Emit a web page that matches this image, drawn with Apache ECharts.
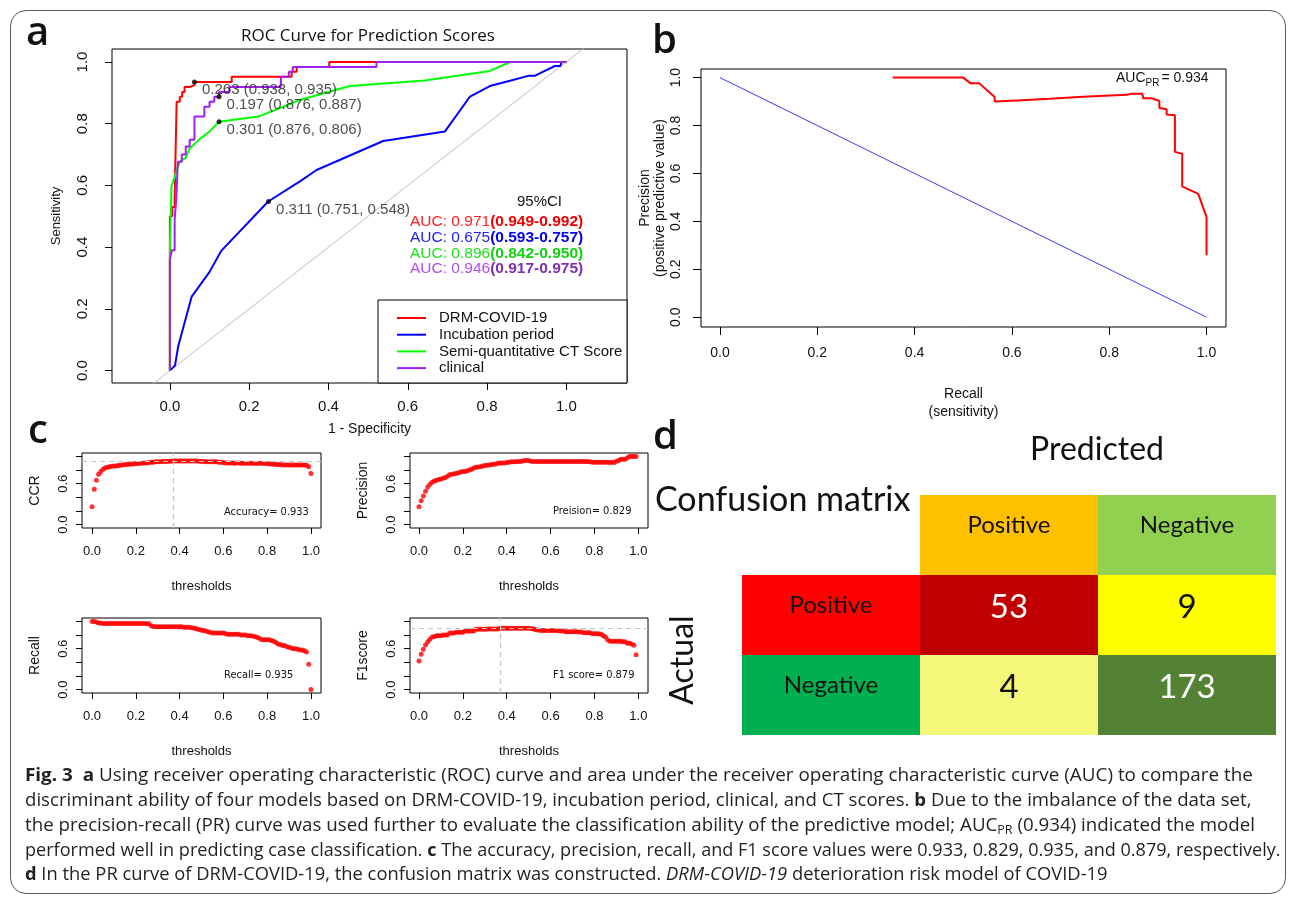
<!DOCTYPE html>
<html>
<head>
<meta charset="utf-8">
<title>Fig. 3 DRM-COVID-19 model evaluation</title>
<script src="https://cdn.jsdelivr.net/npm/echarts@6/dist/echarts.min.js"></script>
<style>
  html, body { margin: 0; padding: 0; background: #fff; }
  #wrap { position: relative; width: 1295px; height: 902px; overflow: hidden; background: #fff; }
  #chart { position: absolute; left: 0; top: 0; width: 1295px; height: 902px; }
  #frame { position: absolute; left: 10px; top: 10px; width: 1276px; height: 884px; box-sizing: border-box;
           border: 1.5px solid #5c5c5c; border-radius: 16px; pointer-events: none; }
  .cap { position: absolute; left: 25px; white-space: nowrap; font-family: 'Open Sans', sans-serif;
         font-size: 18px; line-height: 24px; color: #231f20; transform-origin: 0 50%; }
  .cap b { font-weight: 700; }
  .cap sub { font-size: 12px; line-height: 0; vertical-align: -3px; }
</style>
</head>
<body>
<div id="wrap">
  <div id="chart"></div>
  <div id="frame"></div>
  <div class="cap" data-w="1228" style="top:762px"><b>Fig. 3</b>&nbsp; <b>a</b> Using receiver operating characteristic (ROC) curve and area under the receiver operating characteristic curve (AUC) to compare the</div>
  <div class="cap" data-w="1227" style="top:787px">discriminant ability of four models based on DRM-COVID-19, incubation period, clinical, and CT scores. <b>b</b> Due to the imbalance of the data set,</div>
  <div class="cap" data-w="1230" style="top:812px">the precision-recall (PR) curve was used further to evaluate the classification ability of the predictive model; AUC<sub>PR</sub> (0.934) indicated the model</div>
  <div class="cap" data-w="1256" style="top:837px">performed well in predicting case classification. <b>c</b> The accuracy, precision, recall, and F1 score values were 0.933, 0.829, 0.935, and 0.879, respectively.</div>
  <div class="cap" data-w="1083" style="top:861px"><b>d</b> In the PR curve of DRM-COVID-19, the confusion matrix was constructed. <i>DRM-COVID-19</i> deterioration risk model of COVID-19</div>
</div>
<script>
// ---------- a: ROC curves, vertices as (1 - specificity, sensitivity) ----------
const rocDrm = [[0,0],[0,0.50],[0.006,0.50],[0.006,0.53],[0.012,0.53],[0.012,0.56],[0.017,0.56],[0.017,0.871],
  [0.025,0.871],[0.025,0.887],[0.031,0.887],[0.031,0.903],[0.037,0.903],[0.037,0.919],[0.05,0.919],[0.05,0.925],
  [0.062,0.925],[0.062,0.935],[0.156,0.935],[0.156,0.952],[0.307,0.952],[0.307,0.968],[0.32,0.968],[0.32,0.984],
  [0.402,0.984],[0.402,1.0],[1,1]];
const rocIncubation = [[0,0],[0.013,0.017],[0.021,0.079],[0.055,0.24],[0.1,0.32],[0.13,0.389],[0.248,0.548],
  [0.328,0.613],[0.37,0.65],[0.538,0.744],[0.694,0.775],[0.757,0.888],[0.807,0.922],[0.858,0.939],[0.904,0.955],
  [0.92,0.955],[0.971,0.987],[0.985,0.987],[0.988,1.0],[1,1]];
const rocCtScore = [[0,0],[0,0.39],[0.004,0.39],[0.004,0.597],[0.025,0.677],[0.04,0.69],[0.05,0.72],[0.075,0.75],
  [0.1,0.775],[0.124,0.806],[0.223,0.823],[0.286,0.855],[0.328,0.877],[0.454,0.922],[0.643,0.94],[0.807,0.971],
  [0.858,1.0],[1,1]];
const rocClinical = [[0,0],[0,0.36],[0.005,0.36],[0.005,0.39],[0.012,0.39],[0.012,0.49],[0.016,0.49],[0.016,0.553],
  [0.02,0.553],[0.02,0.677],[0.03,0.677],[0.03,0.70],[0.04,0.70],[0.04,0.726],[0.05,0.726],[0.05,0.748],
  [0.062,0.748],[0.062,0.823],[0.087,0.823],[0.087,0.855],[0.1,0.855],[0.1,0.871],[0.112,0.871],[0.112,0.887],
  [0.124,0.887],[0.124,0.903],[0.15,0.903],[0.15,0.919],[0.28,0.919],[0.28,0.952],[0.30,0.952],[0.30,0.968],
  [0.31,0.968],[0.31,0.984],[0.521,0.984],[0.521,1.0],[1,1]];
const rocNames = ['DRM-COVID-19', 'Incubation period', 'Semi-quantitative CT Score', 'clinical'];
const aucValues = ['0.971', '0.675', '0.896', '0.946'];
const aucIntervals = ['0.949-0.992', '0.593-0.757', '0.842-0.950', '0.917-0.975'];
// best cut-off of each model: threshold, specificity, sensitivity
const cutThresholds = ['0.263', '0.197', '0.301', '0.311'];
const cutSpecificity = [0.938, 0.876, 0.876, 0.751];
const cutSensitivity = [0.935, 0.887, 0.806, 0.548];

// ---------- b: precision-recall curve ----------
const prCurve = [[0.355,1.0],[0.5,1.0],[0.515,0.976],[0.533,0.976],[0.564,0.92],[0.565,0.9],[0.61,0.905],
  [0.678,0.912],[0.746,0.92],[0.836,0.928],[0.846,0.933],[0.868,0.933],[0.87,0.914],[0.887,0.914],[0.903,0.903],
  [0.903,0.873],[0.918,0.868],[0.918,0.846],[0.935,0.843],[0.935,0.69],[0.95,0.682],[0.95,0.546],[0.983,0.515],
  [1.0,0.418],[1.0,0.259]];
const prChanceLine = [[0,1],[1,0]];
const aucPR = '0.934';

// ---------- c: metrics against the decision threshold ----------
const thresholds = [0,0.01,0.02,0.03,0.04,0.05,0.06,0.07,0.08,0.09,
  0.10,0.11,0.12,0.13,0.14,0.15,0.16,0.17,0.18,0.19,
  0.20,0.21,0.22,0.23,0.24,0.25,0.26,0.27,0.28,0.29,
  0.30,0.31,0.32,0.33,0.34,0.35,0.36,0.37,0.38,0.39,
  0.40,0.41,0.42,0.43,0.44,0.45,0.46,0.47,0.48,0.49,
  0.50,0.51,0.52,0.53,0.54,0.55,0.56,0.57,0.58,0.59,
  0.60,0.61,0.62,0.63,0.64,0.65,0.66,0.67,0.68,0.69,
  0.70,0.71,0.72,0.73,0.74,0.75,0.76,0.77,0.78,0.79,
  0.80,0.81,0.82,0.83,0.84,0.85,0.86,0.87,0.88,0.89,
  0.90,0.91,0.92,0.93,0.94,0.95,0.96,0.97,0.98,0.99,1.00];
const ccrValues = [0.26,0.52,0.65,0.74,0.78,0.81,0.83,0.84,0.85,0.855,
  0.86,0.86,0.865,0.87,0.875,0.88,0.88,0.885,0.89,0.89,
  0.895,0.895,0.9,0.9,0.905,0.905,0.91,0.915,0.915,0.92,
  0.92,0.92,0.925,0.925,0.925,0.93,0.93,0.933,0.933,0.933,
  0.933,0.933,0.933,0.933,0.933,0.933,0.933,0.933,0.933,0.93,
  0.925,0.925,0.92,0.92,0.92,0.92,0.92,0.92,0.915,0.915,
  0.91,0.905,0.905,0.905,0.905,0.9,0.905,0.905,0.9,0.9,
  0.9,0.9,0.9,0.9,0.9,0.895,0.9,0.9,0.9,0.895,
  0.895,0.89,0.89,0.885,0.88,0.88,0.88,0.875,0.875,0.875,
  0.875,0.875,0.875,0.875,0.875,0.875,0.875,0.875,0.87,0.85,0.75];
const precisionValues = [0.26,0.35,0.42,0.49,0.55,0.59,0.62,0.64,0.65,0.66,
  0.67,0.68,0.69,0.71,0.73,0.74,0.745,0.75,0.76,0.77,
  0.78,0.78,0.79,0.8,0.81,0.83,0.84,0.845,0.85,0.86,
  0.865,0.87,0.875,0.88,0.885,0.89,0.9,0.905,0.905,0.905,
  0.91,0.915,0.92,0.92,0.92,0.925,0.925,0.93,0.94,0.94,
  0.94,0.93,0.925,0.925,0.925,0.925,0.925,0.925,0.925,0.925,
  0.925,0.925,0.925,0.925,0.925,0.925,0.925,0.925,0.925,0.925,
  0.925,0.925,0.925,0.925,0.925,0.925,0.925,0.925,0.92,0.915,
  0.915,0.915,0.915,0.915,0.915,0.915,0.915,0.91,0.915,0.91,
  0.93,0.94,0.96,0.96,0.96,0.98,1.0,1.0,1.0,1.0];
const recallValues = [1.0,1.0,0.99,0.975,0.975,0.97,0.97,0.97,0.97,0.97,
  0.97,0.97,0.97,0.97,0.968,0.968,0.968,0.968,0.968,0.968,
  0.968,0.968,0.968,0.968,0.968,0.965,0.965,0.935,0.925,0.92,
  0.92,0.92,0.92,0.92,0.92,0.92,0.92,0.92,0.92,0.92,
  0.92,0.92,0.915,0.915,0.915,0.91,0.905,0.9,0.89,0.88,
  0.87,0.865,0.86,0.85,0.84,0.83,0.83,0.83,0.83,0.83,
  0.83,0.82,0.81,0.81,0.81,0.81,0.81,0.81,0.8,0.8,
  0.8,0.79,0.79,0.79,0.78,0.77,0.76,0.74,0.73,0.73,
  0.73,0.73,0.72,0.71,0.69,0.67,0.66,0.645,0.645,0.63,
  0.62,0.61,0.6,0.6,0.59,0.58,0.58,0.57,0.55,0.37,0.0];
const f1Values = [0.42,0.52,0.59,0.655,0.7,0.74,0.77,0.78,0.79,0.79,
  0.79,0.8,0.8,0.8,0.83,0.83,0.83,0.84,0.84,0.84,
  0.84,0.86,0.86,0.86,0.86,0.86,0.885,0.885,0.885,0.885,
  0.885,0.89,0.89,0.89,0.89,0.89,0.89,0.9,0.9,0.9,
  0.9,0.9,0.9,0.9,0.9,0.9,0.9,0.9,0.9,0.9,
  0.9,0.895,0.89,0.88,0.875,0.87,0.865,0.865,0.865,0.865,
  0.865,0.865,0.865,0.865,0.86,0.86,0.86,0.85,0.85,0.85,
  0.85,0.85,0.85,0.845,0.845,0.835,0.835,0.835,0.835,0.82,
  0.82,0.82,0.82,0.81,0.79,0.77,0.73,0.71,0.71,0.71,
  0.71,0.71,0.71,0.7,0.7,0.68,0.68,0.67,0.65,0.51];
const bestThreshold = 0.37;
const accuracy = '0.933';
const precisionScore = '0.829';
const recallScore = '0.935';
const f1Score = '0.879';

// ---------- d: confusion matrix ----------
const predictedClasses = ['Positive', 'Negative'];
const actualClasses = ['Positive', 'Negative'];
const confusionCounts = [[53, 9], [4, 173]];

// ---------- drawing ----------
const RF = "'Liberation Sans', Arial, sans-serif";
const NARROW = "'Liberation Sans Narrow', 'DejaVu Sans Condensed', 'Liberation Sans', sans-serif";
const OFFICE = "Lato, 'Open Sans', sans-serif";
const unitTicks = [0, 0.2, 0.4, 0.6, 0.8, 1.0];
const fmt1 = v => Number(v).toFixed(1);

function rAxis(o) {
  return {
    type: 'value', gridIndex: o.grid, min: o.min, max: o.max,
    axisLine: { show: false, onZero: false },
    splitLine: { show: false },
    axisTick: { show: true, length: o.tick, lineStyle: { color: '#000', width: 1 }, customValues: o.ticks },
    axisLabel: { show: true, customValues: o.labels, formatter: fmt1, margin: o.margin, rotate: o.rotate || 0,
                 fontSize: o.fs, color: '#111', fontFamily: RF },
    name: o.name, nameLocation: 'middle', nameGap: o.gap,
    nameTextStyle: { fontSize: o.nfs, color: '#111', fontFamily: RF, lineHeight: o.nlh || o.nfs + 2 }
  };
}
const boxGrid = (l, t, w, h) => ({ left: l, top: t, width: w, height: h, show: true,
  borderColor: '#000', borderWidth: 1, backgroundColor: 'transparent', containLabel: false });

const rocColors = ['#FF0000', '#0000FF', '#00FF00', '#A020F0'];
const rocData = [rocDrm, rocIncubation, rocCtScore, rocClinical];

const cutPoints = cutSpecificity.map((s, i) => [1 - s, cutSensitivity[i]]);

function pointsOf(values) { return values.map((v, i) => [thresholds[i], v]); }
function dots(gridIdx, values, extra) {
  return Object.assign({
    type: 'scatter', xAxisIndex: gridIdx, yAxisIndex: gridIdx, data: pointsOf(values),
    symbol: 'circle', symbolSize: 5, itemStyle: { color: '#FF0000' }, silent: true, z: 3
  }, extra || {});
}
function guideLines(yValue) {
  return {
    symbol: 'none', silent: true, label: { show: false },
    lineStyle: { color: '#c4c4c4', type: [5, 4], width: 1.2 },
    data: [{ xAxis: bestThreshold }, { yAxis: yValue }]
  };
}

// confusion matrix cells: [column, row, text, style key]
const matrixCells = [];
predictedClasses.forEach((p, j) => matrixCells.push([j + 1, 0, p, 'head' + j]));
actualClasses.forEach((a, i) => matrixCells.push([0, i + 1, a, 'side' + i]));
confusionCounts.forEach((row, i) => row.forEach((n, j) => matrixCells.push([j + 1, i + 1, String(n), 'cell' + i + j])));
const cellStyles = {
  head0: ['#FFC000', '#111', 24], head1: ['#92D050', '#111', 24],
  side0: ['#FF0000', '#111', 24], side1: ['#00B050', '#111', 24],
  cell00: ['#C00000', '#fff', 33], cell01: ['#FFFF00', '#111', 33],
  cell10: ['#F4F77A', '#111', 33], cell11: ['#548235', '#fff', 33]
};

const rocSeries = rocData.map((d, i) => ({
  type: 'line', name: rocNames[i], xAxisIndex: 0, yAxisIndex: 0, data: d,
  symbol: 'none', showSymbol: false, clip: true, silent: true,
  lineStyle: { color: rocColors[i], width: 2 }, itemStyle: { color: rocColors[i] }, z: 3 + i
}));

const aucTexts = aucValues.map((v, i) => ({
  type: 'text', left: 410, top: 214 + i * 15.7, z: 50,
  style: {
    text: `{a|AUC: ${v}}{b|(${aucIntervals[i]})}`,
    rich: {
      a: { fontSize: 15.5, fontFamily: RF, fill: ['#FF2020', '#2020FF', '#20E020', '#B44CF0'][i] },
      b: { fontSize: 15.5, fontFamily: RF, fontWeight: 'bold', fill: ['#EE0000', '#0000EE', '#10D010', '#7F2FAF'][i] }
    }
  }
}));

const option = {
  animation: false,
  textStyle: { fontFamily: RF },
  grid: [
    boxGrid(112, 49, 515, 334),   // a
    boxGrid(701, 69, 525, 258),   // b
    boxGrid(82, 453, 239, 75),    // c: CCR
    boxGrid(410, 453, 238, 75),   // c: precision
    boxGrid(82, 618, 239, 75),    // c: recall
    boxGrid(410, 618, 238, 75),   // c: F1
    { left: 742, top: 495, width: 534, height: 240, show: false }  // d
  ],
  xAxis: [
    rAxis({ grid: 0, min: -0.146, max: 1.153, tick: 7, ticks: unitTicks, labels: unitTicks, margin: 16, fs: 15,
            name: '1 - Specificity', gap: 38, nfs: 14 }),
    rAxis({ grid: 1, min: -0.039, max: 1.04, tick: 8, ticks: unitTicks, labels: unitTicks, margin: 19, fs: 14,
            name: 'Recall\n(sensitivity)', gap: 58, nfs: 14, nlh: 18 }),
    rAxis({ grid: 2, min: -0.046, max: 1.046, tick: 6, ticks: unitTicks, labels: unitTicks, margin: 17, fs: 13,
            name: 'thresholds', gap: 51, nfs: 13 }),
    rAxis({ grid: 3, min: -0.041, max: 1.044, tick: 6, ticks: unitTicks, labels: unitTicks, margin: 17, fs: 13,
            name: 'thresholds', gap: 51, nfs: 13 }),
    rAxis({ grid: 4, min: -0.046, max: 1.046, tick: 6, ticks: unitTicks, labels: unitTicks, margin: 17, fs: 13,
            name: 'thresholds', gap: 51, nfs: 13 }),
    rAxis({ grid: 5, min: -0.041, max: 1.044, tick: 6, ticks: unitTicks, labels: unitTicks, margin: 17, fs: 13,
            name: 'thresholds', gap: 51, nfs: 13 }),
    { type: 'category', gridIndex: 6, data: ['', 'Positive', 'Negative'], show: false }
  ],
  yAxis: [
    rAxis({ grid: 0, min: -0.04, max: 1.042, tick: 7, ticks: unitTicks, labels: unitTicks, margin: 22, rotate: 90, fs: 15,
            name: 'Sensitivity', gap: 48, nfs: 13 }),
    rAxis({ grid: 1, min: -0.041, max: 1.036, tick: 8, ticks: unitTicks, labels: unitTicks, margin: 18, rotate: 90, fs: 14,
            name: 'Precision\n(positive predictive value)', gap: 32, nfs: 14, nlh: 15 }),
    rAxis({ grid: 2, min: -0.05, max: 1.05, tick: 6, ticks: unitTicks, labels: [0, 0.6], margin: 12, rotate: 90, fs: 13,
            name: 'CCR', gap: 39, nfs: 14 }),
    rAxis({ grid: 3, min: -0.05, max: 1.05, tick: 6, ticks: unitTicks, labels: [0, 0.6], margin: 12, rotate: 90, fs: 13,
            name: 'Precision', gap: 39, nfs: 14 }),
    rAxis({ grid: 4, min: -0.05, max: 1.05, tick: 6, ticks: unitTicks, labels: [0, 0.6], margin: 12, rotate: 90, fs: 13,
            name: 'Recall', gap: 39, nfs: 14 }),
    rAxis({ grid: 5, min: -0.05, max: 1.05, tick: 6, ticks: unitTicks, labels: [0, 0.6], margin: 12, rotate: 90, fs: 13,
            name: 'F1score', gap: 39, nfs: 14 }),
    { type: 'category', gridIndex: 6, data: ['', 'Positive', 'Negative'], inverse: true, show: false }
  ],
  legend: {
    data: rocNames.map(n => ({ name: n, icon: 'rect' })), orient: 'vertical', left: 392, top: 305,
    itemWidth: 29, itemHeight: 2, itemGap: 0.7, selectedMode: false, z: 60,
    textStyle: { fontSize: 15, fontFamily: RF, color: '#111', lineHeight: 16, padding: [0, 0, 0, 8] }
  },
  series: [
    // a: chance diagonal, ROC curves and best cut-offs
    { type: 'line', xAxisIndex: 0, yAxisIndex: 0, data: [[-0.3, -0.3], [1.3, 1.3]], symbol: 'none', clip: true,
      silent: true, lineStyle: { color: '#BEBEBE', width: 1 }, z: 2 },
    ...rocSeries,
    { type: 'scatter', xAxisIndex: 0, yAxisIndex: 0, data: cutPoints, symbol: 'circle', symbolSize: 5,
      itemStyle: { color: '#000' }, silent: true, z: 10,
      label: { show: true, position: 'right', distance: 5, offset: [0, 8], fontSize: 15, fontFamily: RF, color: '#222',
               formatter: p => `${cutThresholds[p.dataIndex]} (${cutSpecificity[p.dataIndex].toFixed(3)}, ${cutSensitivity[p.dataIndex].toFixed(3)})` } },
    // b: PR curve over the chance line
    { type: 'line', xAxisIndex: 1, yAxisIndex: 1, data: prChanceLine, symbol: 'none', silent: true,
      lineStyle: { color: '#3A3AFF', width: 1 }, z: 2 },
    { type: 'line', xAxisIndex: 1, yAxisIndex: 1, data: prCurve, symbol: 'none', silent: true,
      lineStyle: { color: '#FF0000', width: 2 }, z: 3 },
    // c: threshold scans
    dots(2, ccrValues, { markLine: guideLines(Math.max(...ccrValues)) }),
    dots(3, precisionValues),
    dots(4, recallValues),
    dots(5, f1Values, { markLine: guideLines(Math.max(...f1Values)) }),
    // d: confusion matrix
    { type: 'custom', xAxisIndex: 6, yAxisIndex: 6, data: matrixCells, silent: true,
      renderItem: (params, api) => {
        const cell = matrixCells[params.dataIndex];
        const c = api.coord([api.value(0), api.value(1)]);
        const s = api.size([1, 1]);
        const st = cellStyles[cell[3]];
        return { type: 'group', children: [
          { type: 'rect', shape: { x: c[0] - s[0] / 2, y: c[1] - s[1] / 2, width: s[0], height: s[1] },
            style: { fill: st[0] } },
          { type: 'text', x: c[0], y: c[1] + (st[2] > 30 ? -8 : -10),
            style: { text: cell[2], fill: st[1], fontSize: st[2], fontFamily: OFFICE, align: 'center', verticalAlign: 'middle' } }
        ] };
      } }
  ],
  graphic: [
    // panel letters
    { type: 'text', left: 26, top: 14, z: 50, style: { text: 'a', fontSize: 40, fontFamily: "'Open Sans', sans-serif", fontWeight: 600, fill: '#111' } },
    { type: 'text', left: 652, top: 22, z: 50, style: { text: 'b', fontSize: 40, fontFamily: "'Open Sans', sans-serif", fontWeight: 600, fill: '#111' } },
    { type: 'text', left: 28, top: 412, z: 50, style: { text: 'c', fontSize: 40, fontFamily: "'Open Sans', sans-serif", fontWeight: 600, fill: '#111' } },
    { type: 'text', left: 653, top: 418, z: 50, style: { text: 'd', fontSize: 40, fontFamily: "'Open Sans', sans-serif", fontWeight: 600, fill: '#111' } },
    // a: title, CI header, AUC lines, legend frame
    { type: 'text', x: 368, y: 36, z: 50, style: { text: 'ROC Curve for Prediction Scores', fontSize: 17,
      fontFamily: "'Open Sans', sans-serif", fill: '#111', align: 'center', verticalAlign: 'middle' } },
    { type: 'text', left: 517, top: 194, z: 50, style: { text: '95%CI', fontSize: 15, fontFamily: RF, fill: '#111' } },
    ...aucTexts,
    { type: 'rect', shape: { x: 378, y: 300, width: 249, height: 83 }, z: 40,
      style: { fill: '#fff', stroke: '#000', lineWidth: 1 } },
    // b: area under PR curve
    { type: 'text', left: 1116, top: 70, z: 50, style: {
      text: '{a|AUC}{s|PR}{a|= ' + aucPR + '}',
      rich: { a: { fontSize: 14, fontFamily: RF, fill: '#111', verticalAlign: 'top', lineHeight: 17 },
              s: { fontSize: 10, fontFamily: RF, fill: '#111', verticalAlign: 'bottom', lineHeight: 17, padding: [8, 2, 0, 0] } } } },
    // c: summary scores
    { type: 'text', left: 224, top: 507, z: 50, style: { text: 'Accuracy= ' + accuracy, fontSize: 11, fontFamily: NARROW, fill: '#111' } },
    { type: 'text', left: 553, top: 506, z: 50, style: { text: 'Preision= ' + precisionScore, fontSize: 11, fontFamily: NARROW, fill: '#111' } },
    { type: 'text', left: 224, top: 670, z: 50, style: { text: 'Recall= ' + recallScore, fontSize: 11, fontFamily: NARROW, fill: '#111' } },
    { type: 'text', left: 553, top: 670, z: 50, style: { text: 'F1 score= ' + f1Score, fontSize: 11, fontFamily: NARROW, fill: '#111' } },
    // d: headings
    { type: 'text', x: 1097, y: 450, z: 50, style: { text: 'Predicted', fontSize: 32, fontFamily: OFFICE, fill: '#111', align: 'center', verticalAlign: 'middle' } },
    { type: 'text', x: 655, y: 500, z: 50, style: { text: 'Confusion matrix', fontSize: 34, fontFamily: OFFICE, fill: '#111', align: 'left', verticalAlign: 'middle' } },
    { type: 'text', x: 683, y: 660, rotation: Math.PI / 2, z: 50, style: { text: 'Actual', fontSize: 32, fontFamily: OFFICE, fill: '#111', align: 'center', verticalAlign: 'middle' } }
  ]
};

const chart = echarts.init(document.getElementById('chart'), null, { renderer: 'canvas' });
chart.setOption(option);

// fit each caption line to its column width
document.querySelectorAll('.cap').forEach(el => {
  const target = Number(el.dataset.w);
  const w = el.scrollWidth;
  if (w > 0) el.style.transform = `scaleX(${target / w})`;
});
</script>
</body>
</html>
